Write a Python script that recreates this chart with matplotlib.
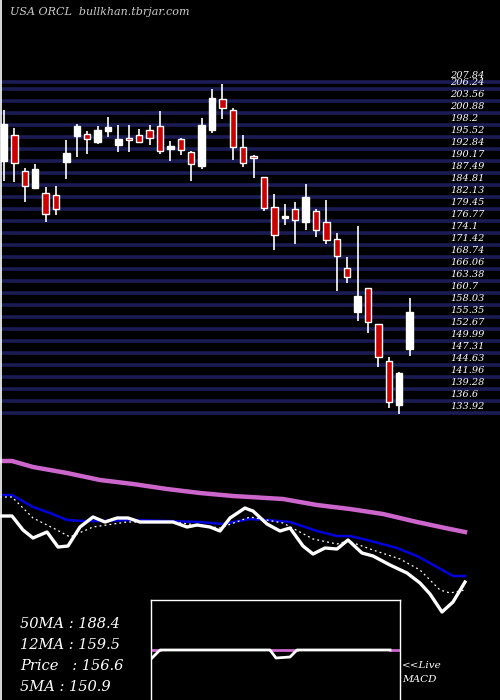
import matplotlib
matplotlib.use("Agg")
import matplotlib.pyplot as plt
from matplotlib.lines import Line2D

# ---- price candles (O, H, L, C) ----
opens  = [190.19,195.99,187.96,184.16,183.04,182.60,189.97,195.77,196.22,194.43,196.89,193.76,195.32,195.99,197.11,198.00,192.87,195.10,192.20,189.07,
          197.11,204.03,201.58,193.31,190.86,186.62,179.92,177.46,179.47,176.57,179.02,176.57,172.77,166.30,156.47,161.83,153.79,145.53,135.70,148.21]
highs  = [201.58,197.56,188.63,189.52,184.38,184.61,194.88,198.45,196.89,198.00,200.01,198.23,198.23,197.33,198.23,201.35,194.65,195.32,192.42,199.79,
          206.27,207.38,202.02,195.99,191.53,186.62,182.82,180.59,181.03,185.05,179.47,181.48,174.11,168.75,175.67,161.83,153.79,146.42,143.07,159.60]
lows   = [185.72,185.50,181.03,183.94,176.57,178.13,186.17,191.08,191.75,193.98,195.55,192.20,192.20,194.21,193.76,191.75,190.19,191.53,185.72,188.40,
          196.44,199.57,190.41,188.85,186.39,179.02,170.32,175.90,171.65,174.78,173.22,171.65,161.16,162.95,154.46,151.78,144.19,135.03,133.70,146.64]
closes = [198.45,189.74,184.61,188.40,178.35,179.47,191.98,198.00,195.10,197.11,197.78,195.10,194.88,194.43,195.32,192.42,193.54,192.64,189.52,198.23,
          204.26,202.02,193.31,189.74,190.75,179.69,173.67,177.91,177.01,182.15,174.78,172.55,168.98,164.29,160.04,154.24,146.42,136.37,142.85,156.47]

grid_levels = [133.92 + 2.68 * k for k in range(28)] + [207.84]
grid_labels = ["133.92","136.6","139.28","141.96","144.63","147.31","149.99","152.67","155.35","158.03",
               "160.7","163.38","166.06","168.74","171.42","174.1","176.77","179.45","182.13","184.81",
               "187.49","190.17","192.84","195.52","198.2","200.88","203.56","206.24","207.84"]

# ---- lower panel moving averages (panel units) ----
ma50_x = [0,12,33,67,100,133,167,200,233,250,283,317,350,383,417,450,465]
ma50_y = [461,461,467,473,480,484,489,493,496,497,499,505,509,514,522,529,532]
ma12_x = [0,12,33,50,67,83,100,133,167,200,223,250,267,290,317,337,350,367,397,417,437,453,465]
ma12_y = [495,495,507,513,520,521,521,520,521,522,524,519,520,522,531,536,536,540,548,556,567,576,576]
price_x = [0,12,23,33,47,58,68,80,93,105,117,128,140,173,187,197,210,220,230,245,250,253,267,280,290,303,313,325,337,348,362,373,390,407,420,430,442,453,465]
price_y = [516,516,530,538,532,547,546,527,517,522,518,518,522,522,527,525,527,531,518,508,510,511,524,531,528,546,554,548,549,540,553,556,565,573,583,594,612,602,582]
ma5_x = [0,12,33,57,70,93,127,173,220,250,283,313,337,348,373,400,420,440,450,465]
ma5_y = [497,497,518,530,537,527,522,522,528,517,523,539,544,541,550,559,570,590,593,590]

macd_x = [151,160,270,276,290,297,390]
macd_y = [659,650,650,658,657,650,650]

info = ["50MA : 188.4", "12MA : 159.5", "Price   : 156.6", "5MA : 150.9"]

W, H = 500, 700
fig = plt.figure(figsize=(5, 7), dpi=100, facecolor="black")

# price axes: pixel rows 60..420
ax = fig.add_axes([0, 1 - 420 / H, 1, 360 / H], facecolor="black")
ax.set_xlim(-4 / 10.4, (W - 4) / 10.4)
ax.set_ylim(133.92 - 7 * 0.2233, 133.92 + 353 * 0.2233)
ax.axis("off")
for lv in grid_levels:
    ax.axhline(lv, color="#1c1c55", lw=2.6, zorder=1)
for lv, lb in zip(grid_levels, grid_labels):
    ax.text(42.9, lv + 0.4, lb, color="white", fontsize=7, family="DejaVu Serif",
            style="italic", ha="left", va="bottom", zorder=3)
for i, (o, h, l, c) in enumerate(zip(opens, highs, lows, closes)):
    up = c >= o
    ax.vlines(i, l, h, color="white", lw=1.2, zorder=4)
    lo, hi = min(o, c), max(o, c)
    if hi - lo < 0.5:
        hi = lo + 0.5
    ax.bar(i, hi - lo, bottom=lo, width=0.6, color="white" if up else "#cc0000",
           edgecolor="white", lw=1.0, zorder=5)

# lower MA panel
ax2 = fig.add_axes([0, 1 - 620 / H, 1, 180 / H], facecolor="black")
ax2.set_xlim(0, W); ax2.set_ylim(620, 440); ax2.axis("off")
ax2.plot(ma50_x, ma50_y, color="#cc66cc", lw=3.2)
ax2.plot(ma12_x, ma12_y, color="#0000dd", lw=1.8)
ax2.plot(ma5_x, ma5_y, color="white", lw=0.9, ls=(0, (1.5, 2.5)))
ax2.plot(price_x, price_y, color="white", lw=2.4)

# MACD box
ax3 = fig.add_axes([151 / W, 0, 249 / W, 100 / H], facecolor="black")
ax3.set_xlim(151, 400); ax3.set_ylim(700, 600)
ax3.set_xticks([]); ax3.set_yticks([])
for s in ax3.spines.values():
    s.set_color("white"); s.set_linewidth(1.0)
ax3.spines["bottom"].set_visible(False)
ax3.plot([151, 160], [650, 650], color="#cc66cc", lw=2)
ax3.plot([270, 297], [650, 650], color="#cc66cc", lw=2)
ax3.plot([390, 400], [650, 650], color="#cc66cc", lw=2)
ax3.plot(macd_x, macd_y, color="white", lw=2)

# texts
fig.text(10 / W, 1 - 12 / H, "USA ORCL  bullkhan.tbrjar.com", color="#cccccc", fontsize=8,
         family="DejaVu Serif", style="italic", va="center")
for k, t in enumerate(info):
    fig.text(20 / W, 1 - (624 + 21 * k) / H, t, color="white", fontsize=10.5,
             family="DejaVu Serif", style="italic", va="center")
fig.text(402 / W, 1 - 665 / H, "<<Live", color="white", fontsize=7.5, family="DejaVu Serif", style="italic", va="center")
fig.text(402 / W, 1 - 680 / H, "MACD", color="white", fontsize=7.5, family="DejaVu Serif", style="italic", va="center")
fig.add_artist(Line2D([1.2 / W, 1.2 / W], [0, 1], color="white", lw=1.2, transform=fig.transFigure))

fig.savefig("out.png", dpi=100, facecolor="black")
